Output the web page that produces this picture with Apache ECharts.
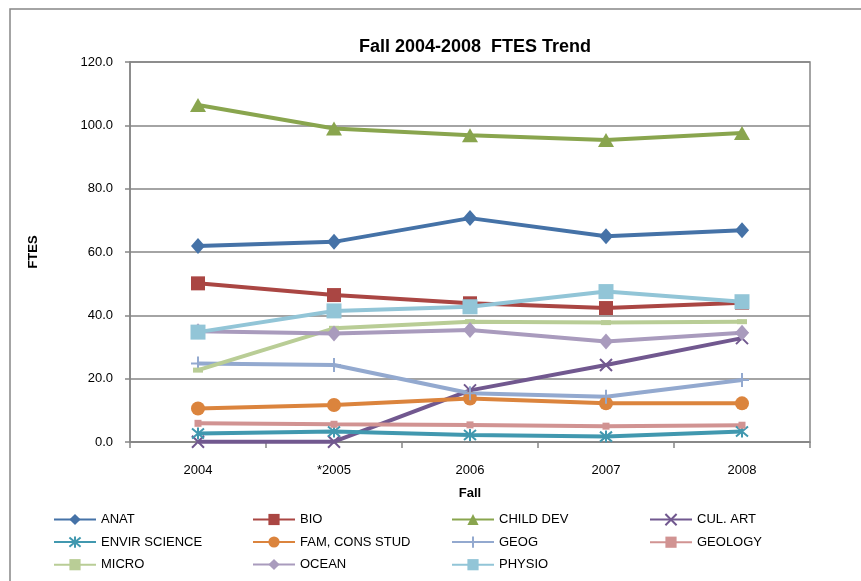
<!DOCTYPE html>
<html>
<head>
<meta charset="utf-8">
<script src="https://cdn.jsdelivr.net/npm/echarts@6/dist/echarts.min.js"></script>
<style>
  html, body { margin: 0; padding: 0; background: #fff; }
  #chart { width: 861px; height: 581px; }
</style>
</head>
<body>
<div id="chart"></div>
<script>
var years = ['2004', '*2005', '2006', '2007', '2008'];
var yTicks = [0, 20, 40, 60, 80, 100, 120];

var anat = [61.9, 63.2, 70.7, 65.0, 66.9];
var bio = [50.1, 46.4, 43.8, 42.3, 44.0];
var childDev = [106.4, 99.0, 96.9, 95.4, 97.6];
var culArt = [0.1, 0.1, 16.3, 24.3, 32.8];
var envirScience = [2.7, 3.3, 2.2, 1.7, 3.3];
var famConsStud = [10.6, 11.7, 13.7, 12.2, 12.2];
var geog = [24.8, 24.3, 15.4, 14.3, 19.6];
var geology = [5.9, 5.6, 5.4, 5.0, 5.3];
var micro = [22.7, 35.9, 38.0, 37.7, 38.0];
var ocean = [35.0, 34.3, 35.4, 31.7, 34.5];
var physio = [34.7, 41.4, 42.7, 47.5, 44.3];

var FONT = '"Liberation Sans", Arial, sans-serif';
var GRAY = '#868686';

var xPath = 'path://M0,0L10,10M10,0L0,10';
var starPath = 'path://M0,0L10,10M10,0L0,10M5,-1L5,11';
var plusPath = 'path://M5,0L5,10M0,5L10,5';

function mk(name, data, color, symbol, size, stroke) {
    return {
        name: name,
        type: 'line',
        data: data,
        symbol: symbol,
        symbolSize: size,
        showSymbol: true,
        lineStyle: { color: color, width: 4 },
        itemStyle: {
            color: color,
            borderColor: color,
            borderWidth: stroke ? 2 : 0
        },
        emphasis: { disabled: true }
    };
}

var series = [
    mk('ANAT', anat, '#4572A7', 'diamond', [14, 16], false),
    mk('BIO', bio, '#AA4643', 'rect', 14, false),
    mk('CHILD DEV', childDev, '#89A54E', 'triangle', [16, 14], false),
    mk('CUL. ART', culArt, '#71588F', xPath, 12, true),
    mk('ENVIR SCIENCE', envirScience, '#4198AF', starPath, 12, true),
    mk('FAM, CONS STUD', famConsStud, '#DB843D', 'circle', 14, false),
    mk('GEOG', geog, '#93A9CF', plusPath, 14, true),
    mk('GEOLOGY', geology, '#D19392', 'rect', 7, false),
    mk('MICRO', micro, '#B9CD96', 'rect', [10, 5], false),
    mk('OCEAN', ocean, '#A99BBD', 'diamond', [14, 16], false),
    mk('PHYSIO', physio, '#92C5D7', 'rect', 15, false)
];

function legendCol(left, names) {
    return {
        orient: 'vertical',
        left: left,
        top: 513,
        padding: 0,
        itemWidth: 42,
        itemHeight: 14,
        itemGap: 9.5,
        data: names,
        selectedMode: false,
        textStyle: { fontFamily: FONT, fontSize: 13, color: '#000' }
    };
}

var chart = echarts.init(document.getElementById('chart'));
chart.setOption({
    animation: false,
    backgroundColor: '#fff',
    title: {
        text: 'Fall 2004-2008  FTES Trend',
        left: 470,
        textAlign: 'center',
        top: 33,
        textStyle: { fontFamily: FONT, fontSize: 18, fontWeight: 'bold', color: '#000' }
    },
    graphic: [{
        type: 'rect',
        shape: { x: 10, y: 9, width: 860, height: 580 },
        style: { fill: 'none', stroke: GRAY, lineWidth: 1.5 },
        silent: true
    }],
    legend: [
        legendCol(53, ['ANAT', 'ENVIR SCIENCE', 'MICRO']),
        legendCol(252, ['BIO', 'FAM, CONS STUD', 'OCEAN']),
        legendCol(451, ['CHILD DEV', 'GEOG', 'PHYSIO']),
        legendCol(649, ['CUL. ART', 'GEOLOGY'])
    ],
    grid: {
        left: 130, top: 62, right: 51, bottom: 139,
        show: true, borderColor: GRAY, borderWidth: 1.5
    },
    xAxis: {
        type: 'category',
        data: years,
        boundaryGap: true,
        name: 'Fall',
        nameLocation: 'middle',
        nameGap: 45,
        nameTextStyle: { fontFamily: FONT, fontSize: 13, fontWeight: 'bold', color: '#000' },
        axisLine: { lineStyle: { color: GRAY, width: 1.5 } },
        axisTick: { show: true, length: 6, interval: 0, lineStyle: { color: GRAY, width: 1.5 } },
        axisLabel: { fontFamily: FONT, fontSize: 13, color: '#000', margin: 22 }
    },
    yAxis: {
        type: 'value',
        min: yTicks[0],
        max: yTicks[yTicks.length - 1],
        interval: 20,
        name: 'FTES',
        nameLocation: 'middle',
        nameRotate: 90,
        nameGap: 90,
        nameTextStyle: { fontFamily: FONT, fontSize: 13, fontWeight: 'bold', color: '#000' },
        axisLine: { show: true, lineStyle: { color: GRAY, width: 1.5 } },
        axisTick: { show: true, length: 5, lineStyle: { color: GRAY, width: 1.5 } },
        axisLabel: {
            fontFamily: FONT, fontSize: 13, color: '#000', margin: 17,
            formatter: function (v) { return v.toFixed(1); }
        },
        splitLine: { show: true, lineStyle: { color: GRAY, width: 1.5 } }
    },
    series: series
});
</script>
</body>
</html>
